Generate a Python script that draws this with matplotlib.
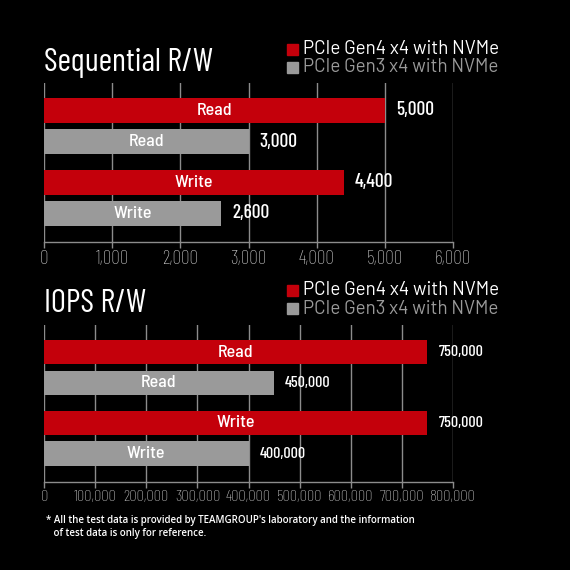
import matplotlib
matplotlib.use("Agg")
from matplotlib import pyplot as plt
from matplotlib import font_manager
from matplotlib.ticker import FuncFormatter

# data
seq_labels = ["Read", "Read", "Write", "Write"]
seq_values = [5000, 3000, 4400, 2600]
seq_ticks = [0, 1000, 2000, 3000, 4000, 5000, 6000]

iops_labels = ["Read", "Read", "Write", "Write"]
iops_values = [750000, 450000, 750000, 400000]
iops_ticks = [0, 100000, 200000, 300000, 400000, 500000, 600000, 700000, 800000]

series_names = ["PCIe Gen4 x4 with NVMe", "PCIe Gen3 x4 with NVMe"]
series_of_bar = [0, 1, 0, 1]

RED = "#c4000b"
GRAY = "#9a9a9a"
BG = "#000000"

names = {f.name for f in font_manager.fontManager.ttflist}


def pick(*cands):
    for c in cands:
        if c in names:
            return c
    return "DejaVu Sans"


cond = pick("Barlow Condensed", "Roboto Condensed", "Liberation Sans Narrow")
semi = pick("Barlow Semi Condensed", "Barlow", "DejaVu Sans")
wide = pick("Barlow", "Barlow Semi Condensed", "DejaVu Sans")
foot = pick("Open Sans", "Noto Sans", "DejaVu Sans")

fig = plt.figure(figsize=(5.7, 5.7), dpi=100, facecolor=BG)


def draw_panel(rect, title, labels, values, ticks, title_y, tick_size, val_size):
    ax = fig.add_axes(rect, facecolor=BG)
    pos = [0, 1, 2.3, 3.3]
    colors = [RED if s == 0 else GRAY for s in series_of_bar]
    ax.barh(pos, values, height=0.8, color=colors, zorder=3)
    ax.set_ylim(4.22, -0.88)
    ax.set_xlim(ticks[0], ticks[-1])
    ax.set_xticks(ticks)
    ax.xaxis.set_major_formatter(FuncFormatter(lambda v, p: f"{int(v):,}"))
    ax.set_yticks([])
    ax.grid(axis="x", color="#8c8c8c", linewidth=1.0, zorder=0)
    for s in ["top", "left", "right"]:
        ax.spines[s].set_visible(False)
    ax.spines["bottom"].set_color("#8c8c8c")
    ax.spines["bottom"].set_linewidth(1.0)
    ax.tick_params(axis="x", colors="#8c8c8c", labelcolor="#c8c8c8", length=4, width=1.0,
                   labelsize=tick_size, pad=1.5)
    for lb in ax.get_xticklabels():
        lb.set_fontfamily(cond)
        lb.set_fontweight("light")

    span = ticks[-1] - ticks[0]
    for p, v, lab in zip(pos, values, labels):
        ax.text(v / 2, p, lab, color="white", fontsize=13, ha="center", va="center",
                zorder=4, family=semi, fontweight="medium")
        ax.text(v + span * 0.027, p, f"{v:,}", color="white", fontsize=val_size, ha="left",
                va="center", family=cond, fontweight="medium")

    fig.text(44 / 570, 1 - title_y / 570, title, color="white", fontsize=23.5, family=cond,
             fontweight="normal", ha="left", va="center")
    for i, (name, col) in enumerate(zip(series_names, [RED, GRAY])):
        y = 1 - (title_y - 14 + i * 18.5) / 570
        fig.patches.append(plt.Rectangle((287 / 570, y - 5.5 / 570), 11 / 570, 11 / 570,
                                         transform=fig.transFigure, color=col))
        fig.text(303 / 570, y, name, color="white" if i == 0 else GRAY, fontsize=13.5,
                 family=wide, ha="left", va="center")
    return ax


draw_panel([44 / 570, 1 - 242 / 570, 409 / 570, 159 / 570], "Sequential R/W",
           seq_labels, seq_values, seq_ticks, 63, 14, 14)
draw_panel([44 / 570, 1 - 482 / 570, 409 / 570, 157 / 570], "IOPS R/W",
           iops_labels, iops_values, iops_ticks, 304, 11.8, 11.5)

fig.text(46 / 570, 1 - 527 / 570,
         "* All the test data is provided by TEAMGROUP's laboratory and the information\n"
         "   of test data is only for reference.",
         color="white", fontsize=7.0, family=foot, fontweight="semibold",
         fontstretch="semi-condensed", ha="left", va="center", linespacing=1.25)

fig.savefig("out.png", dpi=100, facecolor=BG)
